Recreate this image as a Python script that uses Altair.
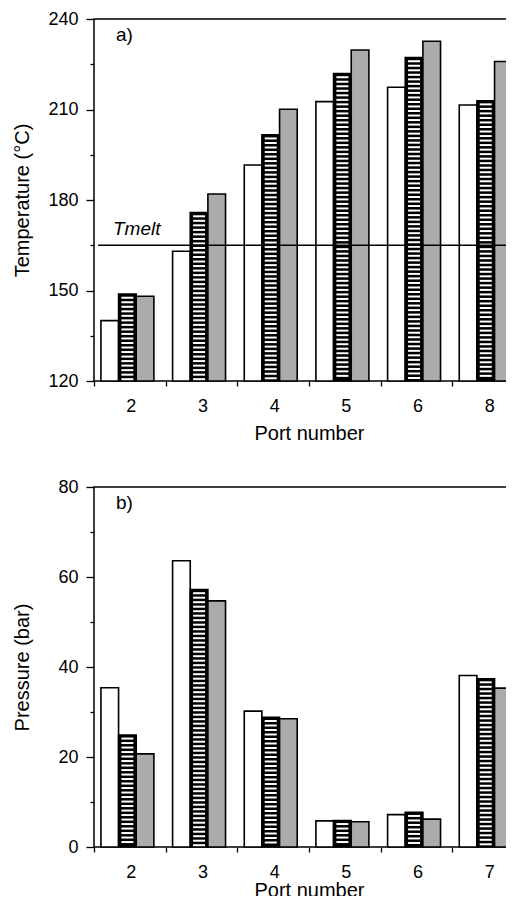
import altair as alt
import pandas as pd

# ---------------- data ----------------
series = ["s1", "s2", "s3"]

ports_a = ["2", "3", "4", "5", "6", "8"]
temp_s1 = [140.0, 163.0, 191.6, 212.6, 217.4, 211.5]
temp_s2 = [148.8, 175.8, 201.6, 221.9, 227.2, 212.9]
temp_s3 = [148.1, 182.0, 210.1, 229.7, 232.6, 225.9]
tmelt = 165

ports_b = ["2", "3", "4", "5", "6", "7"]
pres_s1 = [35.4, 63.6, 30.2, 5.8, 7.2, 38.1]
pres_s2 = [24.9, 57.2, 28.8, 5.9, 7.7, 37.4]
pres_s3 = [20.7, 54.7, 28.5, 5.6, 6.2, 35.3]

FONT = "Liberation Sans"
W = 430          # plot width (its right part is cut off by the page edge)
STEP = W / 6


def panel(ports, s1, s2, s3, ymin, ymax, major, minor, ytitle, tag,
          stripe_step, stripe_top, height, title_pad, extra_layers=()):
    rows = []
    for p, a, b, c in zip(ports, s1, s2, s3):
        rows += [{"port": p, "series": "s1", "value": a},
                 {"port": p, "series": "s2", "value": b},
                 {"port": p, "series": "s3", "value": c}]
    df = pd.DataFrame(rows)

    # white stripes of the hatched (second) series
    srows = []
    for p, b in zip(ports, s2):
        v = b - stripe_top
        while v > ymin + stripe_step * 0.4:
            srows.append({"port": p, "series": "s2", "value": v})
            v -= stripe_step
    sdf = pd.DataFrame(srows)

    x = alt.X("port:N", sort=ports,
              scale=alt.Scale(paddingInner=0, paddingOuter=0),
              axis=alt.Axis(title="Port number", domain=False, tickSize=5,
                            tickOffset=-STEP / 2, labelOffset=STEP / 2 + 1,
                            labelPadding=11, labelAngle=0, titlePadding=title_pad))
    xo = alt.XOffset("series:N", sort=series,
                     scale=alt.Scale(paddingInner=0, paddingOuter=0.53, align=0.37))
    y = alt.Y("value:Q",
              scale=alt.Scale(domain=[ymin, ymax], zero=False, nice=False),
              axis=alt.Axis(title=ytitle, domain=False,
                            values=list(range(ymin, ymax + 1, minor)),
                            labelExpr=f"datum.value % {major} === 0 ? datum.label : ''",
                            tickSize={"condition": {"test": f"datum.value % {major} === 0", "value": 8},
                                      "value": 4},
                            labelPadding=8, labelOverlap=False,
                            minExtent=46, maxExtent=46, titlePadding=16))

    bars = alt.Chart(df).mark_bar(stroke="black", strokeWidth=1.6).encode(
        x=x, xOffset=xo, y=y, y2=alt.Y2(datum=ymin),
        fill=alt.Fill("series:N", legend=None,
                      scale=alt.Scale(domain=series, range=["white", "black", "#ababab"])),
    )
    stripes = alt.Chart(sdf).mark_tick(color="white", thickness=2, size=12,
                                       opacity=1, orient="horizontal").encode(
        x=alt.X("port:N", sort=ports), xOffset=alt.XOffset("series:N", sort=series),
        y=alt.Y("value:Q"),
    )
    label = alt.Chart(pd.DataFrame({"t": [tag]})).mark_text(
        align="left", baseline="middle", fontSize=19, font=FONT).encode(
        text="t:N", x=alt.value(22), y=alt.value(16))

    return alt.layer(bars, stripes, *extra_layers, label).properties(width=W, height=height)


tm_df = pd.DataFrame({"t": [tmelt], "name": ["Tmelt"]})
tm_rule = alt.Chart(tm_df).mark_rule(color="black", strokeWidth=1.5).encode(
    y="t:Q", x=alt.value(4), x2=alt.value(W))
tm_text = alt.Chart(tm_df).mark_text(align="left", baseline="middle", fontSize=19,
                                     fontStyle="italic", font=FONT, dy=-16).encode(
    y="t:Q", x=alt.value(19), text="name:N")

top = panel(ports_a, temp_s1, temp_s2, temp_s3, 120, 240, 30, 15,
            "Temperature (°C)", "a)", 1.5, 1.2, 362, 8, (tm_rule, tm_text))
bottom = panel(ports_b, pres_s1, pres_s2, pres_s3, 0, 80, 20, 10,
               "Pressure (bar)", "b)", 1.0, 0.8, 360, -1)

chart = alt.vconcat(top, bottom, spacing=33).properties(
    padding={"left": 3, "top": 1, "right": -20, "bottom": -5},
).configure_view(stroke="black", strokeWidth=1.5).configure_axis(
    labelFont=FONT, titleFont=FONT, labelFontSize=18, titleFontSize=20,
    titleFontWeight="normal", labelColor="black", titleColor="black",
    domainColor="black", domainWidth=1.5, tickColor="black", tickWidth=1.3,
    grid=False,
)

chart.save("out.html", embed_options={"renderer": "svg", "actions": False})
